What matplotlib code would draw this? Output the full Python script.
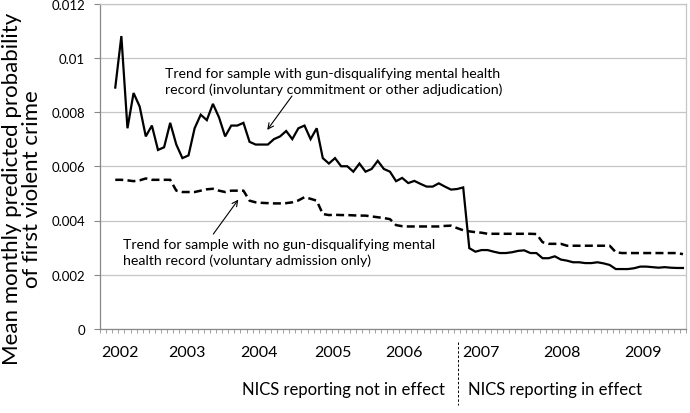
import numpy as np
import pandas as pd
import matplotlib
matplotlib.use("Agg")
import matplotlib.pyplot as plt
import matplotlib.transforms as mtransforms

plt.rcParams.update({
    "font.family": ["Lato", "DejaVu Sans"],
    "font.size": 10,
})

# =========================
# data (monthly, Mar 2002 - Dec 2009)
# =========================
months = pd.period_range("2002-03", "2009-12", freq="M")
all_months = pd.period_range("2002-01", "2009-12", freq="M")

disqualifying = [
    0.0089, 0.0108, 0.0074, 0.0087, 0.0082, 0.0071, 0.0075, 0.0066, 0.0067, 0.0076, 0.0068, 0.0063,
    0.0064, 0.0074, 0.0079, 0.0077, 0.0083, 0.0078, 0.0071, 0.0075, 0.0075, 0.0076, 0.0069, 0.0068,
    0.0068, 0.0068, 0.0070, 0.0071, 0.0073, 0.0070, 0.0074, 0.0075, 0.0070, 0.0074, 0.0063, 0.0061,
    0.0063, 0.0060, 0.0060, 0.0058, 0.0061, 0.0058, 0.0059, 0.0062, 0.0059, 0.0058, 0.00545, 0.00557,
    0.00538, 0.00546, 0.00535, 0.00525, 0.00525, 0.00537, 0.00525, 0.00514, 0.00516, 0.00522, 0.00298, 0.00285,
    0.00291, 0.00291, 0.00285, 0.0028, 0.0028, 0.00283, 0.00288, 0.0029, 0.0028, 0.0028, 0.00261, 0.00261,
    0.00268, 0.00256, 0.00252, 0.00246, 0.00246, 0.00243, 0.00243, 0.00246, 0.00242, 0.00236, 0.00221, 0.00221,
    0.00221, 0.00224, 0.0023, 0.0023, 0.00228, 0.00226, 0.00228, 0.00226, 0.00225, 0.00225,
]

voluntary = [
    0.0055, 0.0055, 0.00548, 0.00545, 0.00548, 0.00555, 0.0055, 0.0055, 0.0055, 0.0055, 0.0051, 0.00505,
    0.00505, 0.00505, 0.0051, 0.00515, 0.00517, 0.0051, 0.00505, 0.0051, 0.0051, 0.0051, 0.00473, 0.00467,
    0.00465, 0.00464, 0.00463, 0.00463, 0.00464, 0.00467, 0.00474, 0.00486, 0.0048, 0.00473, 0.00424, 0.0042,
    0.00421, 0.0042, 0.0042, 0.00419, 0.00418, 0.00418, 0.00415, 0.00412, 0.00409, 0.00405, 0.00383, 0.00379,
    0.00378, 0.00378, 0.00378, 0.00378, 0.00378, 0.00378, 0.0038, 0.00381, 0.00372, 0.00364, 0.0036, 0.00357,
    0.00355, 0.00351, 0.00351, 0.00351, 0.00351, 0.00351, 0.00351, 0.00351, 0.00351, 0.0035, 0.0032, 0.00314,
    0.00314, 0.00314, 0.00307, 0.00307, 0.00307, 0.00307, 0.00307, 0.00307, 0.00307, 0.00307, 0.00283, 0.0028,
    0.0028, 0.0028, 0.0028, 0.0028, 0.0028, 0.0028, 0.0028, 0.0028, 0.0028, 0.00276,
]

year_labels = ["2002", "2003", "2004", "2005", "2006", "2007", "2008", "2009"]
y_ticks = [0, 0.002, 0.004, 0.006, 0.008, 0.01, 0.012]
y_tick_labels = ["0", "0.002", "0.004", "0.006", "0.008", "0.01", "0.012"]

# =========================
# layout
# =========================
YEAR_X = [2.8, 13.75, 25.55, 37.7, 49.3, 61.9, 75.2, 88.5]
NICS_X = 58.2
GRID_C = "#c6c6c6"
AXIS_C = "#888888"

x = [all_months.get_loc(m) for m in months]

fig = plt.figure(figsize=(6.9, 4.14), dpi=100)
ax = fig.add_axes([100 / 690, 1 - 330 / 414, 586 / 690, 325.5 / 414])

ax.plot(x, disqualifying, color="black", linewidth=1.6, solid_joinstyle="miter")
ax.plot(x, voluntary, color="black", linewidth=1.8, dashes=(3.2, 1.7))

ax.set_xlim(-0.5, len(all_months) - 0.5)
ax.set_ylim(0, 0.012)
ax.set_yticks(y_ticks)
ax.set_yticklabels(y_tick_labels)
ax.tick_params(axis="y", length=4.3, width=0.8, color=AXIS_C, pad=6.5, labelsize=9.5)

ax.set_xticks(np.arange(-0.5, len(all_months) + 0.5, 1))
ax.set_xticklabels([])
ax.tick_params(axis="x", length=3.2, width=0.7, color="#a0a0a0")

ax.grid(axis="y", color=GRID_C, linewidth=0.9)
ax.set_axisbelow(True)
for side in ["top", "right"]:
    ax.spines[side].set_color(GRID_C)
    ax.spines[side].set_linewidth(0.9)
for side in ["left", "bottom"]:
    ax.spines[side].set_color(AXIS_C)
    ax.spines[side].set_linewidth(0.9)

# year labels and reporting periods
trans = mtransforms.blended_transform_factory(ax.transData, ax.transAxes)
for xp, lab in zip(YEAR_X, year_labels):
    ax.text(xp, -0.07, lab, transform=trans, ha="center", va="center", fontsize=11.5)

ax.text(NICS_X - 2.2, -0.185, "NICS reporting not in effect", transform=trans,
        ha="right", va="center", fontsize=12)
ax.text(NICS_X + 1.6, -0.185, "NICS reporting in effect", transform=trans,
        ha="left", va="center", fontsize=12)
ax.plot([NICS_X, NICS_X], [-0.04, -0.235], transform=trans, clip_on=False,
        color="black", linewidth=0.7, dashes=(2.5, 2))

# annotations
ax.text(10.15, 0.00914,
        "Trend for sample with gun-disqualifying mental health\n"
        "record (involuntary commitment or other adjudication)",
        ha="left", va="center", fontsize=10.2, linespacing=1.35)
ax.annotate("", xy=(26.9, 0.00734), xytext=(30.95, 0.00859),
            arrowprops=dict(arrowstyle="->", color="black", lw=0.8,
                            shrinkA=0, shrinkB=0))

ax.text(3.27, 0.00284,
        "Trend for sample with no gun-disqualifying mental\n"
        "health record (voluntary admission only)",
        ha="left", va="center", fontsize=10.2, linespacing=1.35)
ax.annotate("", xy=(22.16, 0.00477), xytext=(18.06, 0.0035),
            arrowprops=dict(arrowstyle="->", color="black", lw=0.8,
                            shrinkA=0, shrinkB=0))

fig.text(0.032, 0.543, "Mean monthly predicted probability\nof first violent crime",
         rotation=90, ha="center", va="center", fontsize=16, linespacing=1.05)

fig.savefig("out.png", dpi=100)
